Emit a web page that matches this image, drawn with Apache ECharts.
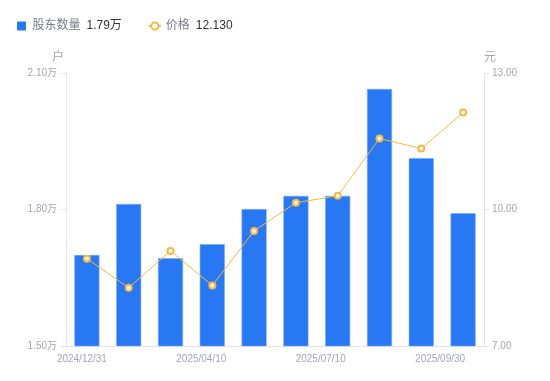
<!DOCTYPE html>
<html>
<head>
<meta charset="utf-8">
<script src="https://cdn.jsdelivr.net/npm/echarts@6/dist/echarts.min.js"></script>
<style>html,body{margin:0;padding:0;background:#fff;}#c{width:550px;height:381px;}</style>
</head>
<body>
<div id="c"></div>
<script>
var categories = ['2024/12/31','2025/01/20','2025/03/10','2025/04/10','2025/04/30','2025/06/10','2025/07/10','2025/08/10','2025/08/31','2025/09/30'];
var holders = [17000, 18120, 16930, 17240, 18010, 18300, 18300, 20650, 19130, 17920];
var prices = [8.92, 8.28, 9.09, 8.33, 9.53, 10.15, 10.30, 11.56, 11.34, 12.13];
var leftTicks = {min: 15000, max: 21000, interval: 3000};
var rightTicks = {min: 7, max: 13, interval: 3};
var labelShift = {0: 5, 3: 11, 6: 17, 9: 23};

var chart = echarts.init(document.getElementById('c'), null, {renderer: 'canvas'});
var grey = '#a3a6b4';
var font = '"Liberation Sans", "Noto Sans CJK SC", sans-serif';
var lastHolder = holders[holders.length - 1];
var lastPrice = prices[prices.length - 1];
var rich = {};
Object.keys(labelShift).forEach(function (k) {
  rich['s' + k] = {padding: [0, labelShift[k] * 2, 0, 0], color: grey, fontSize: 10, fontFamily: font};
});
chart.setOption({
  animation: false,
  textStyle: {fontFamily: font},
  legend: {
    left: 12, top: 15, itemWidth: 12, itemHeight: 9, itemGap: 26,
    textStyle: {
      fontSize: 12, fontFamily: font,
      rich: {
        n: {color: '#7a7d8a', fontSize: 12, fontFamily: font},
        v: {color: '#333', fontSize: 12, fontFamily: font, padding: [0, 0, 0, 6]}
      }
    },
    formatter: function (name) {
      if (name === '股东数量') return '{n|' + name + '}{v|' + (lastHolder / 10000).toFixed(2) + '万}';
      return '{n|' + name + '}{v|' + lastPrice.toFixed(3) + '}';
    },
    data: [
      {name: '股东数量', icon: 'path://M1,0h7a1,1 0 0 1 1,1v7a1,1 0 0 1 -1,1h-7a1,1 0 0 1 -1,-1v-7a1,1 0 0 1 1,-1z', itemStyle: {borderWidth: 0, color: '#2877F3'}},
      {name: '价格'}
    ]
  },
  grid: {left: 66, right: 66, top: 73, bottom: 35, containLabel: false},
  xAxis: {
    type: 'category',
    data: categories,
    axisLine: {lineStyle: {color: '#e3e4ea'}},
    axisTick: {show: false},
    axisLabel: {
      interval: 2, color: grey, fontSize: 10, margin: 8, fontFamily: font,
      formatter: function (v, i) { return '{s' + i + '|' + v + '}'; },
      rich: rich
    }
  },
  yAxis: [{
    type: 'value', name: '户', min: leftTicks.min, max: leftTicks.max, interval: leftTicks.interval,
    nameTextStyle: {color: grey, fontSize: 12, padding: [0, 16, 0, 0]}, nameGap: 9,
    axisLine: {show: true, lineStyle: {color: '#e3e4ea'}},
    axisTick: {show: true, length: 5, lineStyle: {color: '#e3e4ea'}},
    splitLine: {show: false},
    axisLabel: {color: grey, fontSize: 10, margin: 9, formatter: function (v) { return (v / 10000).toFixed(2) + '万'; }}
  }, {
    type: 'value', name: '元', min: rightTicks.min, max: rightTicks.max, interval: rightTicks.interval,
    nameTextStyle: {color: grey, fontSize: 12, padding: [0, 0, 0, 12]}, nameGap: 9,
    axisLine: {show: true, lineStyle: {color: '#e3e4ea'}},
    axisTick: {show: true, length: 5, lineStyle: {color: '#e3e4ea'}},
    splitLine: {show: false},
    axisLabel: {color: grey, fontSize: 10, margin: 8, formatter: function (v) { return v.toFixed(2); }}
  }],
  series: [{
    name: '股东数量', type: 'bar', data: holders, yAxisIndex: 0, barWidth: '60%',
    itemStyle: {color: '#2877F3', borderColor: '#7eacf6', borderWidth: 0.6}
  }, {
    name: '价格', type: 'line', data: prices, yAxisIndex: 1,
    symbol: 'emptyCircle', symbolSize: 6,
    lineStyle: {color: '#F8B745', width: 1},
    itemStyle: {color: '#F8B745', borderWidth: 2}
  }]
});
</script>
</body>
</html>
